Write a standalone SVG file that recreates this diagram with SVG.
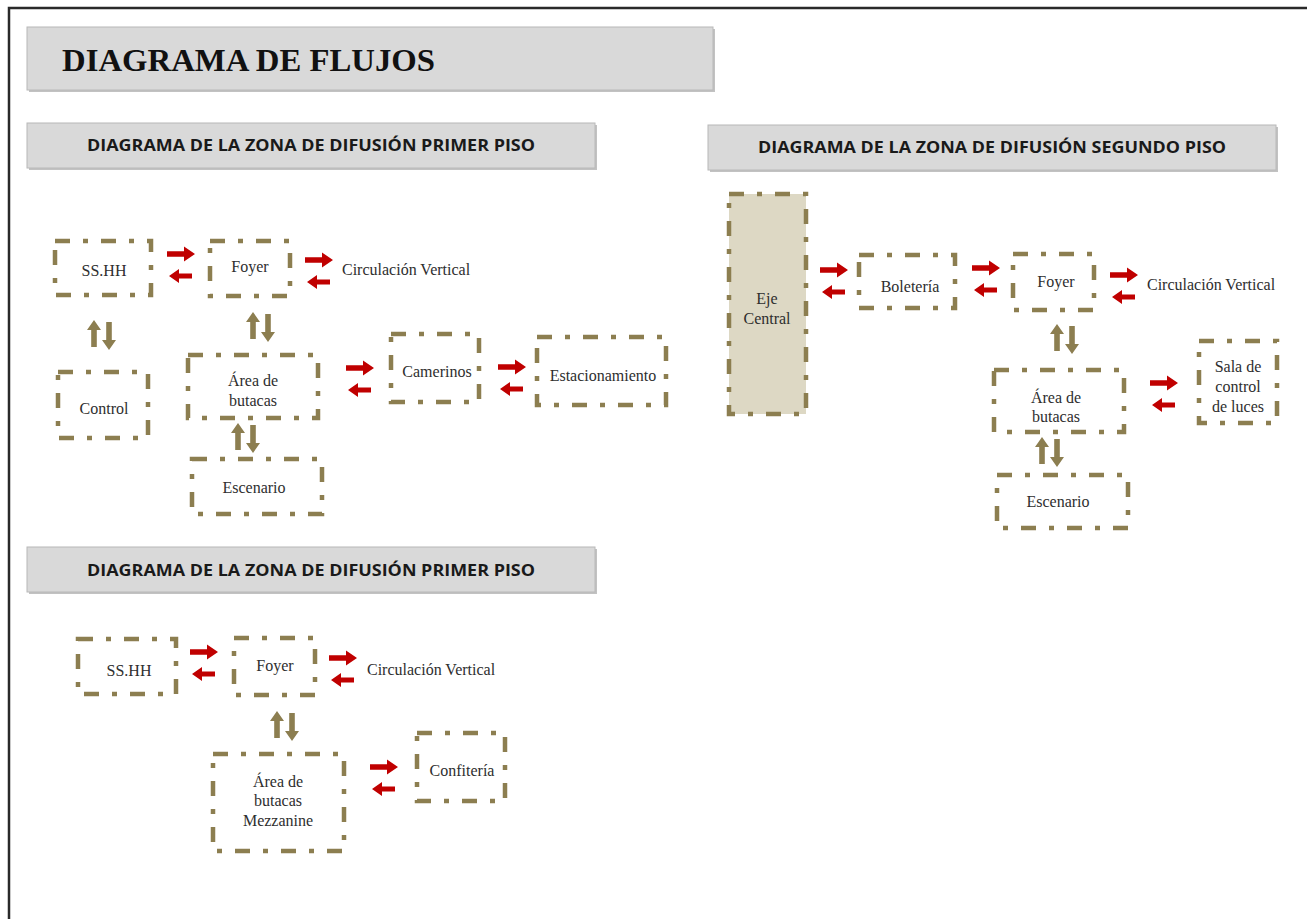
<svg xmlns="http://www.w3.org/2000/svg" xmlns:xlink="http://www.w3.org/1999/xlink" width="1307" height="919" viewBox="0 0 1307 919">
<style>
.node{fill:none;stroke:#8c7e50;stroke-width:4.5;stroke-dasharray:15 13 5 13}
.eje{fill:#ddd8c4;stroke:#8c7e50;stroke-width:4.5;stroke-dasharray:15 13 5 13}
.lbl{font-family:"Liberation Serif","Times New Roman",serif;font-size:16px;fill:#2e2e2e;text-anchor:middle}
.side{font-family:"Liberation Serif","Times New Roman",serif;font-size:16px;fill:#2e2e2e}
.hdr{fill:#d9d9d9;stroke:#b8b8b8;stroke-width:1}
.shd{fill:#9a9a9a;opacity:0.6}
.htx{font-family:"Open Sans","Liberation Sans",sans-serif;font-weight:bold;font-size:16.5px;fill:#1a1a1a;text-anchor:middle}
.red{fill:#c00000}
.olv{fill:#8c7e50}
</style>
<defs>
<path id="ra" class="red" d="M0,-2.8 H17 V-7.5 L28,0 L17,7.5 V2.8 H0 Z"/>
<path id="la" class="red" d="M23,-2.5 H10 V-7 L0,0 L10,7 V2.5 H23 Z"/>
<g id="pr"><use xlink:href="#ra" x="0" y="0"/><use xlink:href="#la" x="2" y="22"/></g>
<g id="ud">
<path class="olv" d="M-2.8,27 V10 H-7 L0,0 L7,10 H2.8 V27 Z"/>
<path class="olv" d="M12.2,2 V20 H8 L15,30 L22,20 H17.8 V2 Z"/>
</g>
</defs>

<g id="frame"><path d="M9,919 V8 H1307" fill="none" stroke="#2a2a2a" stroke-width="2.5"/></g>

<g id="title">
<rect class="shd" x="29" y="29" width="686" height="63"/>
<rect class="hdr" x="27" y="27" width="686" height="63"/>
<text x="62" y="71" font-family="Liberation Serif,'Times New Roman',serif" font-weight="bold" font-size="31" fill="#111" textLength="373" lengthAdjust="spacingAndGlyphs">DIAGRAMA DE FLUJOS</text>
</g>

<g id="header1">
<rect class="shd" x="29" y="125" width="568" height="45"/>
<rect class="hdr" x="27" y="123" width="568" height="45"/>
<text class="htx" x="311" y="151" textLength="448" lengthAdjust="spacingAndGlyphs">DIAGRAMA DE LA ZONA DE DIFUSIÓN PRIMER PISO</text>
</g>
<g id="header2">
<rect class="shd" x="710" y="127" width="568" height="45"/>
<rect class="hdr" x="708" y="125" width="568" height="45"/>
<text class="htx" x="992" y="153" textLength="468" lengthAdjust="spacingAndGlyphs">DIAGRAMA DE LA ZONA DE DIFUSIÓN SEGUNDO PISO</text>
</g>
<g id="header3">
<rect class="shd" x="29" y="549" width="568" height="45"/>
<rect class="hdr" x="27" y="547" width="568" height="45"/>
<text class="htx" x="311" y="576" textLength="448" lengthAdjust="spacingAndGlyphs">DIAGRAMA DE LA ZONA DE DIFUSIÓN PRIMER PISO</text>
</g>

<!-- Section 1 -->
<g id="s1-sshh"><rect class="node" x="55" y="241" width="96" height="54"/><text class="lbl" x="104" y="276">SS.HH</text></g>
<g id="s1-foyer"><rect class="node" x="210" y="241" width="80" height="55"/><text class="lbl" x="250" y="272">Foyer</text></g>
<g id="s1-circ"><text class="side" x="342" y="275">Circulación Vertical</text></g>
<g id="s1-control"><rect class="node" x="58" y="372" width="90" height="66"/><text class="lbl" x="104" y="414">Control</text></g>
<g id="s1-area"><rect class="node" x="188" y="355" width="130" height="63"/><text class="lbl" x="253" y="386">Área de</text><text class="lbl" x="253" y="406">butacas</text></g>
<g id="s1-camerinos"><rect class="node" x="391" y="334" width="88" height="68"/><text class="lbl" x="437" y="377">Camerinos</text></g>
<g id="s1-estac"><rect class="node" x="537" y="337" width="129" height="68"/><text class="lbl" x="603" y="381">Estacionamiento</text></g>
<g id="s1-escenario"><rect class="node" x="192" y="459" width="130" height="55"/><text class="lbl" x="254" y="493">Escenario</text></g>

<!-- Section 2 -->
<g id="s2-eje"><rect class="eje" x="729" y="194" width="77" height="220"/><text class="lbl" x="767" y="304">Eje</text><text class="lbl" x="767" y="324">Central</text></g>
<g id="s2-boleteria"><rect class="node" x="859" y="255" width="96" height="53"/><text class="lbl" x="910" y="292">Boletería</text></g>
<g id="s2-foyer"><rect class="node" x="1013" y="254" width="81" height="56"/><text class="lbl" x="1056" y="287">Foyer</text></g>
<g id="s2-circ"><text class="side" x="1147" y="290">Circulación Vertical</text></g>
<g id="s2-area"><rect class="node" x="994" y="370" width="130" height="62"/><text class="lbl" x="1056" y="403">Área de</text><text class="lbl" x="1056" y="422">butacas</text></g>
<g id="s2-sala"><rect class="node" x="1199" y="341" width="78" height="82"/><text class="lbl" x="1238" y="372">Sala de</text><text class="lbl" x="1238" y="392">control</text><text class="lbl" x="1238" y="412">de luces</text></g>
<g id="s2-escenario"><rect class="node" x="997" y="475" width="131" height="53"/><text class="lbl" x="1058" y="507">Escenario</text></g>

<!-- Section 3 -->
<g id="s3-sshh"><rect class="node" x="78" y="639" width="98" height="55"/><text class="lbl" x="129" y="676">SS.HH</text></g>
<g id="s3-foyer"><rect class="node" x="234" y="638" width="81" height="57"/><text class="lbl" x="275" y="671">Foyer</text></g>
<g id="s3-circ"><text class="side" x="367" y="675">Circulación Vertical</text></g>
<g id="s3-area"><rect class="node" x="213" y="754" width="131" height="97"/><text class="lbl" x="278" y="787">Área de</text><text class="lbl" x="278" y="806">butacas</text><text class="lbl" x="278" y="826">Mezzanine</text></g>
<g id="s3-confiteria"><rect class="node" x="417" y="733" width="88" height="68"/><text class="lbl" x="462" y="776">Confitería</text></g>

<g id="connectors">
<use xlink:href="#pr" x="167" y="254"/>
<use xlink:href="#pr" x="305" y="260"/>
<use xlink:href="#pr" x="346" y="368"/>
<use xlink:href="#pr" x="498" y="367"/>
<use xlink:href="#ud" x="94" y="320"/>
<use xlink:href="#ud" x="253" y="312"/>
<use xlink:href="#ud" x="238" y="423"/>

<use xlink:href="#pr" x="820" y="270"/>
<use xlink:href="#pr" x="972" y="268"/>
<use xlink:href="#pr" x="1110" y="275"/>
<use xlink:href="#pr" x="1150" y="383"/>
<use xlink:href="#ud" x="1057" y="324"/>
<use xlink:href="#ud" x="1042" y="437"/>

<use xlink:href="#pr" x="190" y="652"/>
<use xlink:href="#pr" x="329" y="658"/>
<use xlink:href="#pr" x="370" y="767"/>
<use xlink:href="#ud" x="277" y="711"/>
</g>
</svg>
